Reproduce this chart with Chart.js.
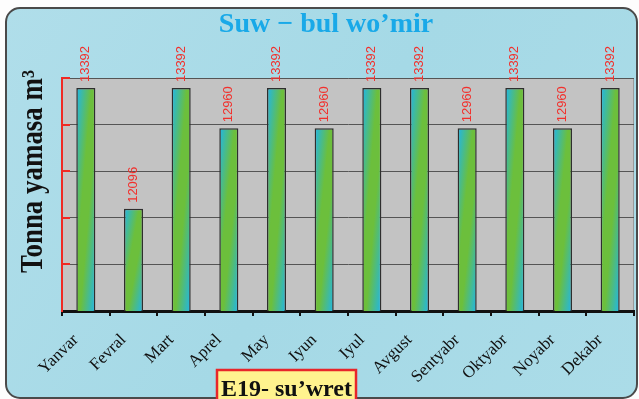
<!DOCTYPE html>
<html>
<head>
<meta charset="utf-8">
<script src="https://cdn.jsdelivr.net/npm/chart.js@4"></script>
<style>
  body { margin: 0; background: #fff; }
  #wrap { width: 639px; height: 399px; }
</style>
</head>
<body>
<div id="wrap"><canvas id="waterChart" width="639" height="399"></canvas></div>
<script>
const months = ['Yanvar', 'Fevral', 'Mart', 'Aprel', 'May', 'Iyun', 'Iyul', 'Avgust', 'Sentyabr', 'Oktyabr', 'Noyabr', 'Dekabr']
const water = [13392, 12096, 13392, 12960, 13392, 12960, 13392, 13392, 12960, 13392, 12960, 13392]
const yTicks = [11000, 11500, 12000, 12500, 13000, 13500]

const titleText = 'Suw \u2212 bul wo\u2019mir'
const yLabel = 'Tonna yamasa m\u00b3'
const caption = 'E19- su\u2019wret'

const ctx = document.getElementById('waterChart')

// diagonal cyan-green-cyan fill, like the original bars
function barFill(c) {
    const chart = c.chart
    const {x, y} = chart.scales
    if (!chart.chartArea || !x || !y) return '#6cbf3c'
    const cx = x.getPixelForValue(c.dataIndex)
    const top = y.getPixelForValue(c.raw)
    const base = y.getPixelForValue(y.min)
    const w = (x.width / months.length) * 0.4
    const h = Math.max(base - top, 1)
    const cy = (top + base) / 2
    const s = w * h / (h * h + w * w)
    const g = chart.ctx.createLinearGradient(cx - s * h, cy - s * w, cx + s * h, cy + s * w)
    g.addColorStop(0, '#1eb6ea')
    g.addColorStop(0.4, '#6cbf3c')
    g.addColorStop(0.6, '#6cbf3c')
    g.addColorStop(1, '#1eb6ea')
    return g
}

const backdrop = {
    id: 'backdrop',
    beforeDraw(chart) {
        const {ctx, chartArea: {left, top, right, bottom}} = chart
        ctx.save()
        ctx.fillStyle = '#fdfdfd'
        ctx.fillRect(0, 0, chart.width, chart.height)
        ctx.beginPath()
        ctx.roundRect(6, 8, 631, 390, 14)
        const g = ctx.createLinearGradient(0, 8, 639, 399)
        g.addColorStop(0, '#b0deea')
        g.addColorStop(0.5, '#a5d9e6')
        g.addColorStop(1, '#abdce8')
        ctx.fillStyle = g
        ctx.fill()
        ctx.lineWidth = 2
        ctx.strokeStyle = '#4a4a4a'
        ctx.stroke()
        // plot area
        ctx.fillStyle = '#c3c3c3'
        ctx.fillRect(left, top, right - left, bottom - top)
        ctx.strokeStyle = '#9a9a9a'
        ctx.lineWidth = 1
        ctx.strokeRect(left + 0.5, top + 0.5, right - left - 1, bottom - top)
        ctx.restore()
    }
}

const extras = {
    id: 'extras',
    afterDatasetsDraw(chart) {
        const {ctx} = chart
        const meta = chart.getDatasetMeta(0)
        ctx.save()
        ctx.fillStyle = '#f2302c'
        ctx.font = '13px "Liberation Sans", Arial, sans-serif'
        ctx.textAlign = 'left'
        ctx.textBaseline = 'middle'
        meta.data.forEach((bar, i) => {
            ctx.save()
            ctx.translate(bar.x, bar.y - 6)
            ctx.rotate(-Math.PI / 2)
            ctx.fillText(String(water[i]), 0, 0)
            ctx.restore()
        })
        ctx.restore()
    },
    afterDraw(chart) {
        const {ctx, chartArea: {left}} = chart
        const ys = chart.scales.y
        ctx.save()
        // red inward ticks on the value axis
        ctx.strokeStyle = '#f02a24'
        ctx.lineWidth = 2
        ys.ticks.forEach(t => {
            if (t.value === ys.min) return
            const py = Math.round(ys.getPixelForValue(t.value))
            ctx.beginPath()
            ctx.moveTo(left, py)
            ctx.lineTo(left + 8, py)
            ctx.stroke()
        })
        // y axis title
        ctx.save()
        ctx.translate(42, 273)
        ctx.rotate(-Math.PI / 2)
        ctx.fillStyle = '#111'
        ctx.font = 'bold 31px "Liberation Serif", "Times New Roman", serif'
        ctx.textAlign = 'left'
        ctx.textBaseline = 'alphabetic'
        ctx.fillText(yLabel, 0, 0, 203)
        ctx.restore()
        // caption box
        ctx.fillStyle = '#fff38e'
        ctx.fillRect(217, 370, 139, 32)
        ctx.strokeStyle = '#e8262a'
        ctx.lineWidth = 2.5
        ctx.strokeRect(217, 370, 139, 32)
        ctx.fillStyle = '#111'
        ctx.font = 'bold 24px "Liberation Serif", "Times New Roman", serif'
        ctx.textAlign = 'left'
        ctx.textBaseline = 'alphabetic'
        ctx.fillText(caption, 221, 396)
        ctx.restore()
    }
}

const data = {
    labels: months,
    datasets: [{
        data: water,
        backgroundColor: barFill,
        borderColor: '#2e2e2e',
        borderWidth: 1.5,
        barPercentage: 0.4,
        categoryPercentage: 1
    }]
}

const options = {
    responsive: false,
    animation: false,
    devicePixelRatio: 1,
    layout: {
        padding: {left: 18, right: 5, top: 0, bottom: 0}
    },
    plugins: {
        legend: {display: false},
        tooltip: {enabled: false},
        title: {
            display: true,
            text: titleText,
            color: '#19a9e8',
            font: {family: '"Liberation Serif", "Times New Roman", serif', size: 28, weight: 'bold'},
            padding: {top: 8, bottom: 36.4}
        }
    },
    scales: {
        x: {
            grid: {
                offset: true,
                drawOnChartArea: false,
                color: '#111',
                lineWidth: 2,
                tickLength: 5
            },
            border: {color: '#111', width: 3},
            ticks: {
                autoSkip: false,
                maxRotation: 45,
                minRotation: 45,
                padding: 14,
                labelOffset: -10,
                color: '#111',
                font: {family: '"Liberation Serif", "Times New Roman", serif', size: 17}
            },
            afterFit(scale) { scale.height = 88 }
        },
        y: {
            min: yTicks[0],
            max: yTicks[yTicks.length - 1],
            afterBuildTicks(scale) { scale.ticks = yTicks.map(v => ({value: v})) },
            grid: {
                color: '#555',
                lineWidth: 1,
                drawTicks: false
            },
            border: {color: '#f02a24', width: 2},
            ticks: {display: false},
            afterFit(scale) { scale.width = 44 }
        }
    }
}

const waterChart = new Chart(ctx, {
    type: 'bar',
    data,
    options,
    plugins: [backdrop, extras]
})
</script>
</body>
</html>
